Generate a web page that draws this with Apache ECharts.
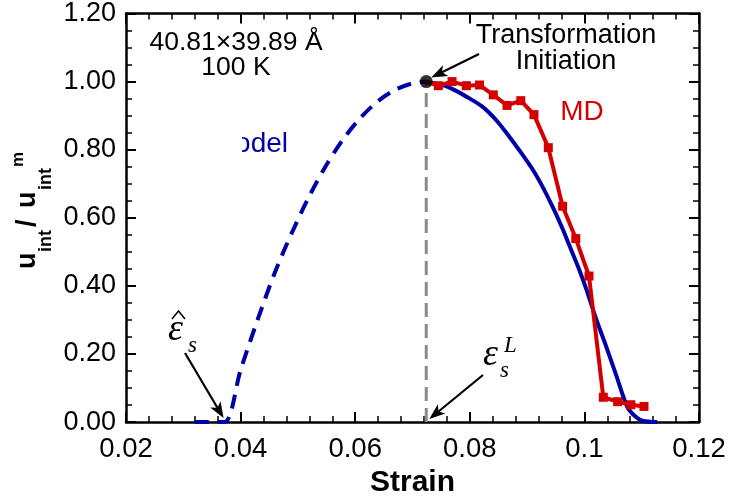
<!DOCTYPE html>
<html>
<head>
<meta charset="utf-8">
<script src="https://cdn.jsdelivr.net/npm/echarts@6/dist/echarts.min.js"></script>
<style>
  html, body { margin: 0; padding: 0; background: #fff; }
  #chart { width: 735px; height: 503px; }
</style>
</head>
<body>
<div id="chart"></div>
<script>
// Tick labels
const xTickLabels = ['0.02', '0.04', '0.06', '0.08', '0.1', '0.12'];
const yTickLabels = ['0.00', '0.20', '0.40', '0.60', '0.80', '1.00', '1.20'];

// Model: rising branch up to transformation initiation (dashed)
const modelRiseStrain = [0.0320, 0.0345, 0.0372, 0.0400, 0.0430, 0.0460, 0.0490, 0.0520, 0.0550, 0.0580, 0.0610, 0.0640, 0.0670, 0.0700, 0.0724];
const modelRiseValue  = [0.000, 0.000, 0.000, 0.153, 0.302, 0.440, 0.558, 0.664, 0.756, 0.833, 0.895, 0.943, 0.976, 0.995, 1.000];

// Model: falling branch after transformation initiation (solid)
const modelFallStrain = [0.0724, 0.0750, 0.0770, 0.0795, 0.0823, 0.0847, 0.0869, 0.0890, 0.0910, 0.0928, 0.0944, 0.0960, 0.0974, 0.0989, 0.1003, 0.1020, 0.1037, 0.1055, 0.1075, 0.1088, 0.1101, 0.1127];
const modelFallValue  = [1.000, 0.991, 0.978, 0.955, 0.925, 0.885, 0.838, 0.790, 0.741, 0.688, 0.634, 0.575, 0.518, 0.456, 0.392, 0.305, 0.227, 0.140, 0.044, 0.018, 0.004, 0.000];

// MD simulation
const mdStrain = [0.0722, 0.0745, 0.0769, 0.0794, 0.0817, 0.0841, 0.0865, 0.0889, 0.0912, 0.0937, 0.0962, 0.0985, 0.1008, 0.1033, 0.1058, 0.1081, 0.1104];
const mdValue  = [1.000, 0.988, 1.000, 0.988, 0.990, 0.961, 0.930, 0.944, 0.903, 0.806, 0.634, 0.539, 0.429, 0.073, 0.060, 0.051, 0.046];

// Transformation initiation
const initStrain = 0.0724;
const initValue = 1.0;
// Start of the model's rising branch
const hatStrain = 0.0372;

const BLUE = '#0000a8';
const RED = '#d40000';
const SANS = '"Liberation Sans", Arial, Helvetica, sans-serif';
const SERIF = '"Liberation Serif", "Times New Roman", serif';

const zip = (xs, ys) => xs.map((x, i) => [x, ys[i]]);

function xAxisDef(pos, labels) {
  return {
    type: 'value', position: pos, min: 0.02, max: 0.12, interval: 0.02,
    axisLine: { onZero: false, lineStyle: { color: '#000', width: 2.5 } },
    axisTick: { inside: true, length: 10, lineStyle: { color: '#000', width: 2 } },
    minorTick: { show: true, splitNumber: 5, length: 6, lineStyle: { color: '#000', width: 1.5 } },
    splitLine: { show: false },
    axisLabel: labels ? {
      show: true, fontSize: 27.5, color: '#000', fontFamily: SANS, margin: 13,
      formatter: v => xTickLabels[Math.round((v - 0.02) / 0.02)]
    } : { show: false },
    name: labels ? 'Strain' : '',
    nameLocation: 'middle', nameGap: 45,
    nameTextStyle: { fontSize: 30, fontWeight: 'bold', color: '#000', fontFamily: SANS }
  };
}

function yAxisDef(pos, labels) {
  return {
    type: 'value', position: pos, min: 0, max: 1.2, interval: 0.2,
    axisLine: { onZero: false, lineStyle: { color: '#000', width: 2.5 } },
    axisTick: { inside: true, length: 10, lineStyle: { color: '#000', width: 2 } },
    minorTick: { show: true, splitNumber: 4, length: 6, lineStyle: { color: '#000', width: 1.5 } },
    splitLine: { show: false },
    axisLabel: labels ? {
      show: true, fontSize: 27, color: '#000', fontFamily: SANS, margin: 10,
      formatter: v => yTickLabels[Math.round(v / 0.2)]
    } : { show: false }
  };
}

const chart = echarts.init(document.getElementById('chart'), null, { renderer: 'canvas' });

const mdData = zip(mdStrain, mdValue).map((p, i) => i === 0 ? { value: p, symbol: 'none' } : p);

chart.setOption({
  animation: false,
  backgroundColor: '#fff',
  grid: { left: 126, right: 36, top: 12, bottom: 78, containLabel: false },
  xAxis: [xAxisDef('bottom', true), xAxisDef('top', false)],
  yAxis: [yAxisDef('left', true), yAxisDef('right', false)],
  series: [
    {
      name: 'init-guide', type: 'line', xAxisIndex: 0, yAxisIndex: 0,
      data: [[initStrain, 0], [initStrain, initValue]],
      showSymbol: false, silent: true, z: 1,
      lineStyle: { color: '#8a8a8a', width: 3, type: [14, 7] }
    },
    {
      name: 'Model (rise)', type: 'line', xAxisIndex: 0, yAxisIndex: 0,
      data: zip(modelRiseStrain, modelRiseValue),
      showSymbol: false, smooth: 0.3, z: 2,
      lineStyle: { color: BLUE, width: 4, type: [14, 9] }
    },
    {
      name: 'Model', type: 'line', xAxisIndex: 0, yAxisIndex: 0,
      data: zip(modelFallStrain, modelFallValue),
      showSymbol: false, smooth: 0.3, z: 3,
      lineStyle: { color: BLUE, width: 4 }
    },
    {
      name: 'MD', type: 'line', xAxisIndex: 0, yAxisIndex: 0,
      data: mdData,
      symbol: 'rect', symbolSize: 9, z: 4,
      itemStyle: { color: RED },
      lineStyle: { color: RED, width: 4 }
    },
    {
      name: 'Initiation', type: 'scatter', xAxisIndex: 0, yAxisIndex: 0,
      data: [[initStrain, initValue]],
      symbol: 'circle', symbolSize: 13, z: 10,
      itemStyle: { color: '#000' }
    }
  ]
});

// Arrow made of a shaft and a notched head
function arrow(tail, tip) {
  const dx = tip[0] - tail[0], dy = tip[1] - tail[1];
  const len = Math.hypot(dx, dy);
  const ux = dx / len, uy = dy / len;
  const head = 16, half = 6;
  const bx = tip[0] - ux * head, by = tip[1] - uy * head;
  const px = -uy, py = ux;
  return [
    { type: 'line', z: 100, shape: { x1: tail[0], y1: tail[1], x2: bx + ux * 4, y2: by + uy * 4 },
      style: { stroke: '#000', lineWidth: 2.2 } },
    { type: 'polygon', z: 100, shape: { points: [
        [tip[0], tip[1]],
        [bx + px * half, by + py * half],
        [bx + ux * 4, by + uy * 4],
        [bx - px * half, by - py * half]
      ] }, style: { fill: '#000' } }
  ];
}

const pInit = chart.convertToPixel({ gridIndex: 0 }, [initStrain, initValue]);
const pInitBase = chart.convertToPixel({ gridIndex: 0 }, [initStrain, 0]);
const pHat = chart.convertToPixel({ gridIndex: 0 }, [hatStrain, 0]);

function txt(x, y, text, font, fill, align) {
  return { type: 'text', x: x, y: y, z: 100,
    style: { text: text, font: font, fill: fill || '#000', align: align || 'center', verticalAlign: 'middle' } };
}

const graphics = [
  // sample size and temperature
  txt(236, 43, '40.81\u00d739.89 \u00c5', '26.5px ' + SANS),
  txt(236, 68, '100 K', '26.5px ' + SANS),
  // initiation label
  txt(566, 36, 'Transformation', '27px ' + SANS),
  txt(566, 62, 'Initiation', '27px ' + SANS),
  ...arrow([479, 54], [pInit[0] + 5, pInit[1] - 4]),
  // series labels
  txt(582, 112, 'MD', '28px ' + SANS, RED),
  txt(288, 144, 'Model', '28px ' + SANS, BLUE, 'right'),
  { type: 'rect', z: 101, shape: { x: 190, y: 124, width: 52, height: 40 }, style: { fill: '#fff' } },
  // epsilon hat
  txt(168, 330, '\u03b5', 'italic 38px ' + SERIF, '#000', 'left'),
  { type: 'polyline', z: 100, shape: { points: [[172, 319], [178.5, 311], [185, 319]] },
    style: { stroke: '#000', lineWidth: 1.5, fill: null } },
  txt(188, 346, 's', 'italic 23px ' + SERIF, '#000', 'left'),
  ...arrow([185, 353], [pHat[0] - 1, pHat[1] - 4]),
  // epsilon L
  txt(483, 355, '\u03b5', 'italic 38px ' + SERIF, '#000', 'left'),
  txt(500, 371, 's', 'italic 23px ' + SERIF, '#000', 'left'),
  txt(504, 346, 'L', 'italic 23px ' + SERIF, '#000', 'left'),
  ...arrow([483, 375], [pInitBase[0] + 3, pInitBase[1] - 3]),
  // value axis title
  { type: 'group', x: 0, y: 269, rotation: Math.PI / 2, z: 100, children: [
    { type: 'text', x: 0,  y: 28, style: { text: 'u',   font: 'bold 27px ' + SANS, fill: '#000', align: 'left', verticalAlign: 'middle' } },
    { type: 'text', x: 17, y: 46, style: { text: 'int', font: 'bold 18px ' + SANS, fill: '#000', align: 'left', verticalAlign: 'middle' } },
    { type: 'text', x: 42, y: 28, style: { text: '/',   font: 'bold 27px ' + SANS, fill: '#000', align: 'left', verticalAlign: 'middle' } },
    { type: 'text', x: 61, y: 28, style: { text: 'u',   font: 'bold 27px ' + SANS, fill: '#000', align: 'left', verticalAlign: 'middle' } },
    { type: 'text', x: 79, y: 46, style: { text: 'int', font: 'bold 18px ' + SANS, fill: '#000', align: 'left', verticalAlign: 'middle' } },
    { type: 'text', x: 102, y: 18, style: { text: 'm',  font: 'bold 17px ' + SANS, fill: '#000', align: 'left', verticalAlign: 'middle' } }
  ] }
];

chart.setOption({ graphic: graphics });
</script>
</body>
</html>
